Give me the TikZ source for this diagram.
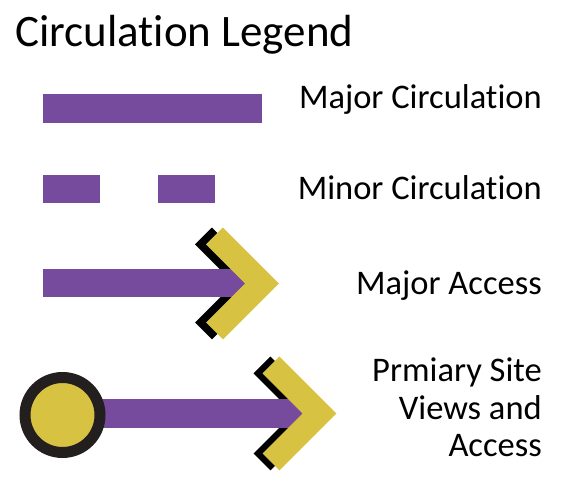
\documentclass[tikz,border=0pt]{standalone}
\usepackage{fontspec}
\setmainfont{Carlito}[Ligatures=NoCommon]
\definecolor{purp}{HTML}{764A9C}
\definecolor{gold}{HTML}{D8C242}
\definecolor{ring}{HTML}{221F1E}
\begin{document}
\begin{tikzpicture}[x=1pt,y=-1pt,
  bar/.style={fill=purp,draw=none},
  chevgold/.style={draw=gold,line width=24pt,line join=miter,line cap=butt},
  chevblack/.style={draw=black,line width=24pt,line join=miter,line cap=butt},
  lbl/.style={anchor=base east,inner sep=0pt,font=\fontsize{34.5}{37.5}\selectfont},
  ttl/.style={anchor=base west,inner sep=0pt,font=\fontsize{45}{50}\selectfont}]
\useasboundingbox (0,0) rectangle (566,502);
% title
\node[ttl] (title) at (15,47) {Circulation Legend};
% major circulation
\fill[bar] (43,94) rectangle (262,122.7);
\node[lbl] (majc) at (542,108.5) {Major Circulation};
% minor circulation
\fill[bar] (43,175) rectangle (100,203.3);
\fill[bar] (158,175) rectangle (215,203.3);
\node[lbl] (minc) at (542,199.5) {Minor Circulation};
% major access
\coordinate (a1) at (262,283.5);
\draw[chevblack] ([shift={(-47.5-11,-47.5)}]a1) -- ([shift={(-11,0)}]a1) -- ([shift={(-47.5-11,47.5)}]a1);
\fill[bar] (43,269.5) rectangle (252,297.5);
\draw[chevgold] ([shift={(-47.5,-47.5)}]a1) -- (a1) -- ([shift={(-47.5,47.5)}]a1);
\node[lbl] (maja) at (542,294.5) {Major Access};
% primary site views
\coordinate (a2) at (319.5,413.5);
\draw[chevblack] ([shift={(-48.5-9,-48.5)}]a2) -- ([shift={(-9,0)}]a2) -- ([shift={(-48.5-9,48.5)}]a2);
\fill[bar] (62,399.5) rectangle (310,428);
\draw[chevgold] ([shift={(-48.5,-48.5)}]a2) -- (a2) -- ([shift={(-48.5,48.5)}]a2);
\node[circle,draw=ring,fill=gold,line width=11pt,minimum size=75pt,inner sep=0pt] (dot) at (62.5,415) {};
\node[lbl,align=right] (psv1) at (542,381.7) {Prmiary Site};
\node[lbl,align=right] (psv2) at (542,419.2) {Views and};
\node[lbl,align=right] (psv3) at (542,456.7) {Access};
\end{tikzpicture}
\end{document}
